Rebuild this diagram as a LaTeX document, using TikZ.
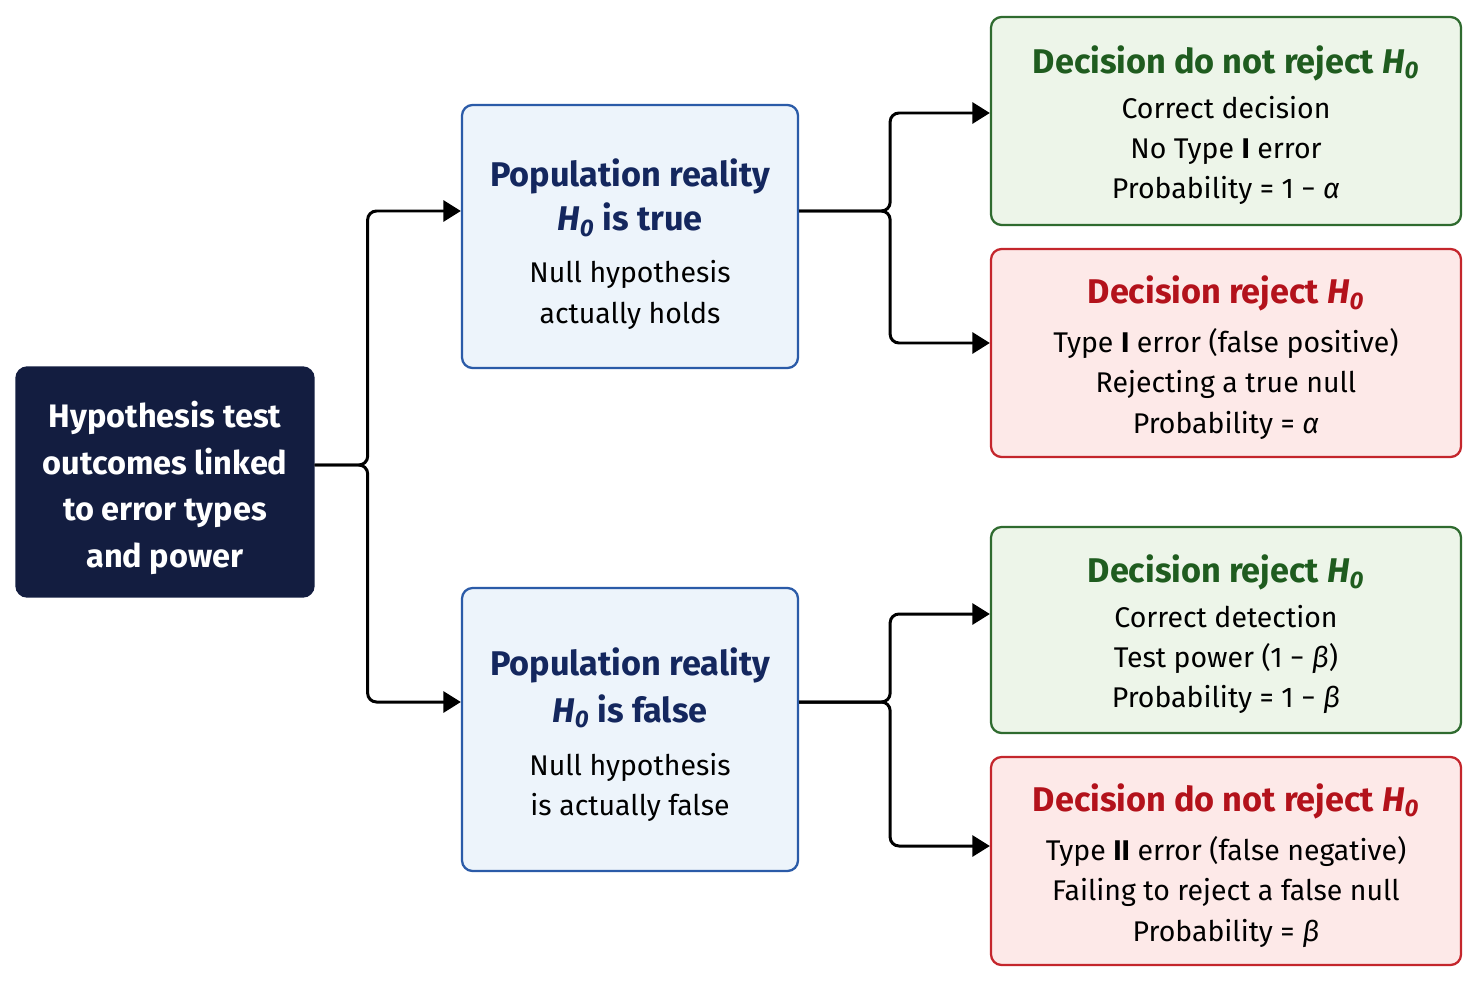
\documentclass[tikz,border=0pt]{standalone}
\usepackage{fontspec}
\setmainfont{Fira Sans}
\usetikzlibrary{arrows.meta}

\definecolor{rootnavy}{HTML}{131D40}
\definecolor{realblue}{HTML}{14275E}
\definecolor{realfill}{HTML}{EDF4FB}
\definecolor{realline}{HTML}{2B5BA8}
\definecolor{okgreen}{HTML}{1F5C1F}
\definecolor{okfill}{HTML}{EDF5E9}
\definecolor{okline}{HTML}{2F6B2F}
\definecolor{errred}{HTML}{B3121B}
\definecolor{errfill}{HTML}{FDE9E8}
\definecolor{errline}{HTML}{C4262C}

\newcommand{\hnull}{\textit{H}\textsubscript{\textit{0}}}
\newcommand{\ttlfont}{\fontsize{19.5}{25}\selectfont\bfseries}

\begin{document}
\begin{tikzpicture}[x=0.2mm,y=-0.2mm]
    \tikzstyle{every node}+=[inner sep=0pt]
    \tikzstyle{box}=[draw, line width=1.3pt, rounded corners=6pt, align=center,
        font=\fontsize{16.2}{23}\selectfont]
    \tikzstyle{realbox}=[box, fill=realfill, draw=realline, minimum width=67.2mm]
    \tikzstyle{okbox}=[box, fill=okfill, draw=okline, minimum width=94mm, minimum height=41.6mm]
    \tikzstyle{errbox}=[box, fill=errfill, draw=errline, minimum width=94mm, minimum height=41.6mm]
    \tikzstyle{conn}=[line width=1.7pt, rounded corners=5pt, -{Triangle[length=10pt,width=12pt]}]
    \useasboundingbox (0,0) rectangle (1479,983);
    % root
    \node [box, fill=rootnavy, draw=rootnavy, text=white, minimum width=59.4mm, minimum height=45.8mm,
        font=\fontsize{18.5}{26.5}\selectfont\bfseries] (root) at (165,482)
        {\\[-5pt]Hypothesis test\\outcomes linked\\to error types\\and power};
    % population reality
    \node [realbox, minimum height=52.6mm] (true) at (630,236.5)
        {\\[1.5pt]{\ttlfont\color{realblue}Population reality}\\[2pt]
         {\ttlfont\color{realblue}\hnull{} is true}\\[6.6pt]
         Null hypothesis\\actually holds};
    \node [realbox, minimum height=56.6mm] (false) at (630,729.5)
        {\\[-1pt]{\ttlfont\color{realblue}Population reality}\\[3.5pt]
         {\ttlfont\color{realblue}\hnull{} is false}\\[7pt]
         Null hypothesis\\is actually false};
    % decisions
    \node [okbox] (keeptrue) at (1226,121)
        {\\[-2.5pt]{\ttlfont\color{okgreen}Decision do not reject \hnull}\\[2.6pt]
         Correct decision\\No Type \textbf{I} error\\Probability = 1 − \textit{α}};
    \node [errbox] (rejtrue) at (1226,353)
        {\\[-2pt]{\ttlfont\color{errred}Decision reject \hnull}\\[4.5pt]
         Type \textbf{I} error (false positive)\\Rejecting a true null\\Probability = \textit{α}};
    \node [okbox, minimum height=41.2mm] (rejfalse) at (1226,630)
        {\\[-2pt]{\ttlfont\color{okgreen}Decision reject \hnull}\\[2.2pt]
         Correct detection\\Test power (1 − \textit{β})\\Probability = 1 − \textit{β}};
    \node [errbox] (keepfalse) at (1226,861)
        {\\[-2pt]{\ttlfont\color{errred}Decision do not reject \hnull}\\[5pt]
         Type \textbf{II} error (false negative)\\Failing to reject a false null\\Probability = \textit{β}};
    % connectors
    \draw [conn] ([yshift=3.4mm]root.east) -- ++(10.6mm,0) |- ([yshift=5.1mm]true.west);
    \draw [conn] ([yshift=3.4mm]root.east) -- ++(10.6mm,0) |- ([yshift=5.5mm]false.west);
    \draw [conn] ([yshift=5.1mm]true.east) -- ++(18.2mm,0) |- ([yshift=1.6mm]keeptrue.west);
    \draw [conn] ([yshift=5.1mm]true.east) -- ++(18.2mm,0) |- ([yshift=2mm]rejtrue.west);
    \draw [conn] ([yshift=5.5mm]false.east) -- ++(18.2mm,0) |- ([yshift=3.2mm]rejfalse.west);
    \draw [conn] ([yshift=5.5mm]false.east) -- ++(18.2mm,0) |- ([yshift=3mm]keepfalse.west);
\end{tikzpicture}
\end{document}
